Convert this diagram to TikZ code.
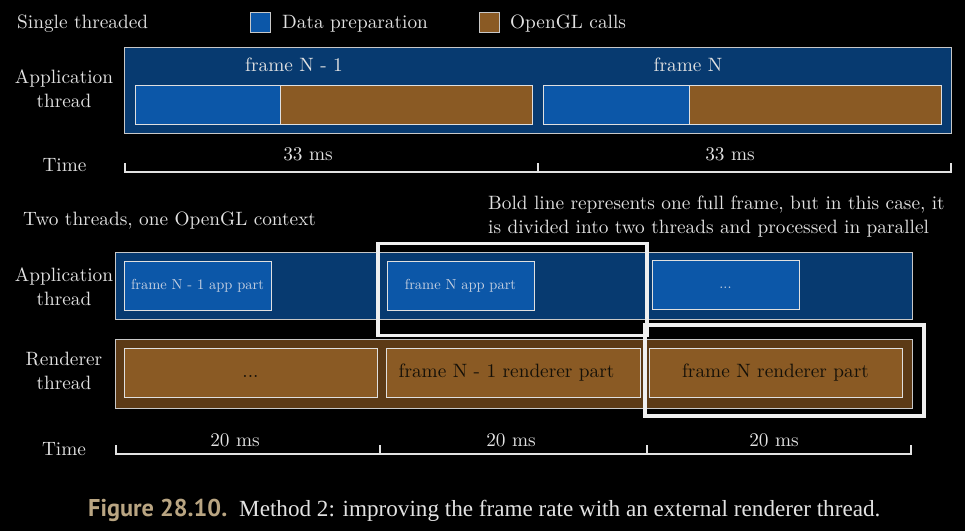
\documentclass[tikz,border=0pt]{standalone}
\usepackage{fontspec}
\setmainfont{lmroman10-regular.otf}
\newfontfamily\capsans{PT Sans}
\newfontfamily\capserif{Liberation Serif}
\definecolor{barblue}{HTML}{073A70}
\definecolor{segblue}{HTML}{0C57A8}
\definecolor{segbrown}{HTML}{8A5A24}
\definecolor{barbrown}{HTML}{5C3A16}
\definecolor{txt}{HTML}{E2E2E2}
\definecolor{apptxt}{HTML}{C8D2E2}
\definecolor{rtxt}{HTML}{141008}
\definecolor{edge}{HTML}{C8C8C8}
\definecolor{segedge}{HTML}{E0E0E0}
\definecolor{tan}{HTML}{B9A582}
\newcommand\mainsize{\fontsize{19.3}{24}\selectfont}
\newcommand\smallsize{\fontsize{14.5}{17}\selectfont}
\tikzset{
  lbl/.style={text=txt, font=\mainsize, inner sep=0pt},
  bar/.style={draw=edge, line width=1pt, anchor=north west, inner sep=0pt, outer sep=0pt},
  seg/.style={draw=segedge, line width=1pt, anchor=north west, inner sep=0pt, outer sep=0pt},
  appseg/.style={seg, fill=segblue, minimum width=147pt, minimum height=49pt, text=apptxt, font=\smallsize},
  rseg/.style={seg, fill=segbrown, minimum width=253pt, minimum height=49pt, text=rtxt, font=\mainsize},
  boldframe/.style={draw=white!94!black, line width=3.5pt, anchor=north west, inner sep=0pt, outer sep=0pt},
  axis/.style={draw=txt, line width=2pt}
}
\begin{document}
\begin{tikzpicture}[x=1pt,y=-1pt]
\useasboundingbox[fill=black] (0,0) rectangle (965,531);

% ---------- single threaded ----------
\node[lbl, anchor=west] (st) at (17,23.5) {Single threaded};
\node[seg, draw=edge, fill=segblue, minimum width=20pt, minimum height=20pt] (legb) at (250,12) {};
\node[lbl, anchor=west] (legbt) at (282,23.5) {Data preparation};
\node[seg, draw=edge, fill=segbrown, minimum width=20pt, minimum height=20pt] (legr) at (479,12) {};
\node[lbl, anchor=west] (legrt) at (510,23.5) {OpenGL calls};

\node[lbl, align=center] (at1) at (64,88.5) {Application\\thread};
\node[bar, fill=barblue, minimum width=827pt, minimum height=86pt] (app1) at (124,47.5) {};
\node[lbl] (fn1) at (294,65) {frame N - 1};
\node[lbl] (fn) at (688,65) {frame N};
\node[seg, fill=segblue, minimum width=145pt, minimum height=39pt] (b1) at (135.5,85) {};
\node[seg, fill=segbrown, minimum width=252pt, minimum height=39pt] (r1) at (280.5,85) {};
\node[seg, fill=segblue, minimum width=146pt, minimum height=39pt] (b2) at (543,85) {};
\node[seg, fill=segbrown, minimum width=252pt, minimum height=39pt] (r2) at (689,85) {};

\node[lbl] (time1) at (64.5,165.5) {Time};
\coordinate (ta0) at (125,163);
\coordinate (ta) at (125,172);
\coordinate (tb0) at (538,163);
\coordinate (tb) at (538,172);
\coordinate (tc) at (951,172);
\coordinate (tc0) at (951,163);
\draw[axis] (ta0) -- (ta) -- (tc) -- (tc0);
\draw[axis] (tb) -- (tb0);
\node[lbl] (ms1) at (308,154) {33 ms};
\node[lbl] (ms2) at (730,154) {33 ms};

% ---------- two threads ----------
\node[lbl, anchor=west] (tt) at (23,221) {Two threads, one OpenGL context};
\node[lbl, anchor=north west, align=left] (note) at (488,196) {Bold line represents one full frame, but in this case, it\\is divided into two threads and processed in parallel};

\node[lbl, align=center] (at2) at (64,286.5) {Application\\thread};
\node[lbl, align=center] (rt2) at (64,370.5) {Renderer\\thread};

\node[bar, fill=barblue, minimum width=797pt, minimum height=67pt] (app2) at (115,252) {};
\node[bar, fill=barbrown, minimum width=797pt, minimum height=69pt] (ren2) at (115,339) {};

\node[appseg] (a1) at (124,261) {frame N - 1 app part};
\node[appseg] (a2) at (387,261) {frame N app part};
\node[appseg] (a3) at (652,260) {\vphantom{fp}...};

\node[rseg] (q1) at (124,348) {\vphantom{fp}...};
\node[rseg, minimum width=254pt] (q2) at (386.5,348) {frame N - 1 renderer part\kern14pt};
\node[rseg] (q3) at (649,348) {frame N renderer part};

\node[boldframe, minimum width=269pt, minimum height=92pt] (f1) at (378,243.5) {};
\node[boldframe, minimum width=279pt, minimum height=91pt] (f2) at (645,325) {};

\node[lbl] (time2) at (64,449) {Time};
\coordinate (ua0) at (116,445);
\coordinate (ua) at (116,454);
\coordinate (ub0) at (380,445);
\coordinate (ub) at (380,454);
\coordinate (uc0) at (647,445);
\coordinate (uc) at (647,454);
\coordinate (ud) at (911,454);
\coordinate (ud0) at (911,445);
\draw[axis] (ua0) -- (ua) -- (ud) -- (ud0);
\draw[axis] (ub) -- (ub0);
\draw[axis] (uc) -- (uc0);
\node[lbl] (ms3) at (235,440) {20 ms};
\node[lbl] (ms4) at (511,440) {20 ms};
\node[lbl] (ms5) at (774,440) {20 ms};

% ---------- caption ----------
\node[anchor=base west, inner sep=0pt, text=tan] (capfig) at (88,516.5) {\resizebox{139pt}{!}{\capsans\bfseries Figure 28.10.}};
\node[anchor=base west, inner sep=0pt, text=txt] (captxt) at (239,516.5) {\resizebox{641pt}{!}{\capserif Method 2: improving the frame rate with an external renderer thread.}};
\end{tikzpicture}
\end{document}
